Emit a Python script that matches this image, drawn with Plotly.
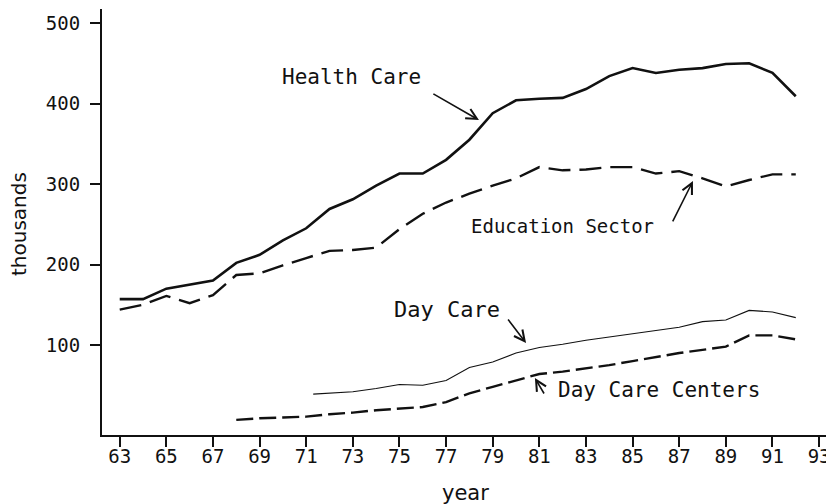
import plotly.graph_objects as go

# ── Data (thousands) ───────────────────────────────────────────────────────
YEARS = list(range(63, 93))
HEALTH_CARE = [157, 157, 170, 175, 180, 202, 212, 230, 245, 269, 281, 298, 313, 313, 330,
               355, 388, 404, 406, 407, 418, 434, 444, 438, 442, 444, 449, 450, 438, 409]
EDUCATION = [144, 150, 161, 152, 162, 187, 189, 199, 208, 217, 218, 221, 244, 263, 277,
             288, 298, 307, 321, 317, 318, 321, 321, 313, 316, 307, 297, 305, 312, 312]

DAY_CARE_YEARS = [71.3, 72, 73, 74, 75, 76, 77, 78, 79, 80, 81, 82, 83, 84, 85, 86, 87, 88, 89, 90, 91, 92]
DAY_CARE = [39, 40, 42, 46, 51, 50, 56, 72, 79, 90, 97, 101, 106, 110, 114, 118, 122, 129, 131, 143, 141, 134]

CENTERS_YEARS = list(range(68, 93))
DAY_CARE_CENTERS = [7, 9, 10, 11, 14, 16, 19, 21, 23, 29, 40, 48, 56, 64, 67, 71, 75, 80, 85, 90,
                    94, 98, 112, 112, 107]

X_TICKS = list(range(63, 95, 2))
Y_TICKS = [100, 200, 300, 400, 500]

INK = "#111111"
MONO = "DejaVu Sans Mono, monospace"
SANS = "DejaVu Sans, sans-serif"

# page body has an 8px margin, so the figure is drawn 8px in from the corner
W, H = 826, 496
L, T, B = 94, 1, 69
PW, PH = W - L, H - T - B

fig = go.Figure()
fig.add_trace(go.Scatter(x=YEARS, y=HEALTH_CARE, mode="lines",
                         line=dict(color=INK, width=2.6)))
fig.add_trace(go.Scatter(x=YEARS, y=EDUCATION, mode="lines",
                         line=dict(color=INK, width=2.4, dash="22px,9px")))
fig.add_trace(go.Scatter(x=DAY_CARE_YEARS, y=DAY_CARE, mode="lines",
                         line=dict(color=INK, width=1.1)))
fig.add_trace(go.Scatter(x=CENTERS_YEARS, y=DAY_CARE_CENTERS, mode="lines",
                         line=dict(color=INK, width=2.4, dash="17px,6px")))

# ── Labels and pointer arrows ──────────────────────────────────────────────
labels = [
    ("Health Care", 72.96, 432.9, "center", 21),
    ("Education Sector", 82.01, 247.8, "center", 19),
    ("Day Care", 77.03, 143.5, "center", 22),
    ("Day Care Centers", 81.71, 44.1, "left", 21),
]
for text, x, y, anchor, size in labels:
    fig.add_annotation(x=x, y=y, text=text, showarrow=False, xanchor=anchor,
                       font=dict(family=MONO, size=size, color=INK))

arrows = [
    ((76.39, 413.0), (78.41, 379.5)),
    ((86.69, 251.6), (87.59, 303.7)),
    ((79.61, 133.5), (80.43, 102.5)),
    ((81.24, 37.9), (80.81, 59.0)),
]
for (tx, ty), (hx, hy) in arrows:
    fig.add_annotation(x=hx, y=hy, ax=tx, ay=ty, axref="x", ayref="y", text="",
                       showarrow=True, arrowhead=5, arrowsize=1.3, arrowwidth=1.6,
                       arrowcolor=INK, standoff=0)

# axis titles, positioned from page pixels
fig.add_annotation(text="thousands", xref="paper", yref="paper",
                   x=(19 - 8 - L) / PW, y=(T + PH - (224 - 8)) / PH,
                   xanchor="center", yanchor="middle", textangle=-90, showarrow=False,
                   font=dict(family=SANS, size=20, color=INK))
fig.add_annotation(text="year", xref="paper", yref="paper",
                   x=(465 - 8 - L) / PW, y=(T + PH - (493 - 8)) / PH,
                   xanchor="center", yanchor="middle", showarrow=False,
                   font=dict(family=SANS, size=21, color=INK))

fig.update_layout(
    width=W, height=H,
    paper_bgcolor="white", plot_bgcolor="white",
    margin=dict(l=L, r=0, t=T, b=B, pad=0),
    showlegend=False,
    font=dict(family=MONO, size=19, color=INK),
    xaxis=dict(range=[62.24, 93.64], tickvals=X_TICKS, ticktext=[str(v) for v in X_TICKS],
               showgrid=False, zeroline=False, showline=True, linecolor=INK, linewidth=2,
               ticks="outside", ticklen=10, tickwidth=1.5, tickcolor=INK, automargin=False,
               ticklabelstandoff=-7),
    yaxis=dict(range=[-11.8, 517.4], tickvals=Y_TICKS, showgrid=False, zeroline=False,
               showline=True, linecolor=INK, linewidth=2,
               ticks="outside", ticklen=10, tickwidth=1.5, tickcolor=INK, automargin=False,
               ticklabelstandoff=6),
)

fig.write_html("out.html")
